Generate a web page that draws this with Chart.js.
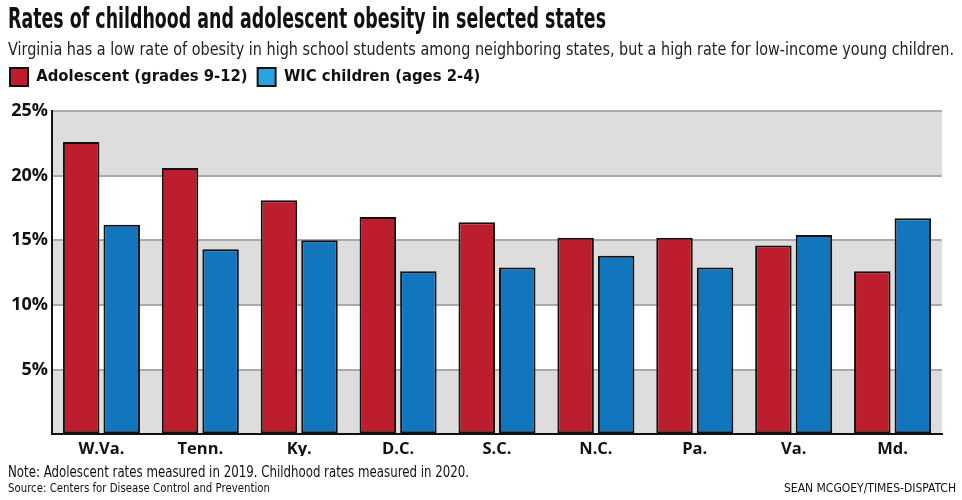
<!DOCTYPE html>
<html><head><meta charset="utf-8">
<script src="https://cdn.jsdelivr.net/npm/chart.js@4"></script>
<style>html,body{margin:0;padding:0;background:#fff}#wrap{width:962px;height:500px;position:relative}</style>
</head><body><div id="wrap"><canvas id="c"></canvas></div>
<script>
const categories = ["W.Va.","Tenn.","Ky.","D.C.","S.C.","N.C.","Pa.","Va.","Md."];
const adolescent = [22.6,20.6,18.1,16.8,16.4,15.2,15.2,14.6,12.6];
const wicChildren = [16.2,14.3,15.0,12.6,12.9,13.8,12.9,15.4,16.7];
const yTicks = [0,5,10,15,20,25];
const seriesNames = ["Adolescent (grades 9-12)","WIC children (ages 2-4)"];
const titleText = "Rates of childhood and adolescent obesity in selected states";
const subtitleText = "Virginia has a low rate of obesity in high school students among neighboring states, but a high rate for low-income young children.";
const noteText = "Note: Adolescent rates measured in 2019. Childhood rates measured in 2020.";
const sourceText = "Source: Centers for Disease Control and Prevention";
const creditText = "SEAN MCGOEY/TIMES-DISPATCH";

const NARROW = "'Liberation Sans Narrow','DejaVu Sans Condensed',sans-serif";
const OPEN = "'Open Sans',sans-serif";

function fitText(ctx, text, x, y, font, width, align){
  ctx.save();
  ctx.font = font;
  const w = ctx.measureText(text).width;
  const s = width / w;
  ctx.textAlign = 'left';
  ctx.translate(align === 'right' ? x - width : x, y);
  ctx.scale(s, 1);
  ctx.fillText(text, 0, 0);
  ctx.restore();
}

const bands = {
  id:'bands',
  beforeDraw(chart){
    const {ctx, chartArea:a, scales:{y}} = chart;
    ctx.save();
    ctx.fillStyle = '#dddddd';
    for (let i=0;i<yTicks.length-1;i+=2){
      const t = y.getPixelForValue(yTicks[i+1]);
      const b = y.getPixelForValue(yTicks[i]);
      ctx.fillRect(a.left, t, a.right-a.left, b-t);
    }
    ctx.restore();
  }
};
const texts = {
  id:'texts',
  afterDraw(chart){
    const ctx = chart.ctx;
    ctx.save();
    ctx.textBaseline = 'alphabetic';
    ctx.fillStyle = '#111';
    fitText(ctx, titleText, 8, 28, "bold 28px " + NARROW, 598);
    ctx.fillStyle = '#222';
    fitText(ctx, subtitleText, 8, 55, "18px " + NARROW, 946);
    ctx.fillStyle = '#111';
    fitText(ctx, noteText, 8, 477, "15px " + NARROW, 461);
    fitText(ctx, sourceText, 8, 492, "12.5px " + NARROW, 262);
    fitText(ctx, creditText, 956, 492, "12.5px " + NARROW, 172, 'right');
    ctx.restore();
  }
};
const spacer = {
  id:'spacer',
  beforeInit(chart){
    Chart.layouts.addBox(chart, {
      position:'top', weight:100, fullSize:true, options:{},
      left:0, top:0, right:0, bottom:0, width:0, height:0,
      update(maxWidth){ this.width = maxWidth; this.height = 15; },
      isHorizontal(){ return true; },
      draw(){}
    });
  }
};

new Chart(document.getElementById('c'), {
  type:'bar',
  data:{
    labels: categories,
    datasets:[
      {label:seriesNames[0], data:adolescent, backgroundColor:'#bc1e2d', borderColor:'#111', borderWidth:2, borderSkipped:false},
      {label:seriesNames[1], data:wicChildren, backgroundColor:'#1276be', borderColor:'#111', borderWidth:2, borderSkipped:false}
    ]
  },
  options:{
    responsive:true, maintainAspectRatio:false, animation:false,
    layout:{padding:{left:0,right:20,top:58,bottom:44}},
    datasets:{bar:{categoryPercentage:0.82, barPercentage:0.9}},
    plugins:{
      title:{display:false},
      legend:{display:true, align:'start',
        labels:{boxWidth:18, boxHeight:18, color:'#111', padding:10,
          font:{family:NARROW, size:16.5, weight:'bold'},
          generateLabels(chart){
            const items = Chart.defaults.plugins.legend.labels.generateLabels(chart);
            items.forEach((it,i)=>{ if(i===1) it.fillStyle = '#29a4e0'; it.lineWidth = 2; });
            return items;
          }}},
      tooltip:{enabled:false}
    },
    scales:{
      x:{grid:{display:false}, border:{color:'#111', width:2},
        ticks:{color:'#111', padding:-3, font:{family:OPEN, size:16.5, weight:'bold'}}},
      y:{min:0, max:25, afterBuildTicks(s){ s.ticks = yTicks.map(v=>({value:v})); },
        afterFit(s){ s.width = 52; },
        grid:{color:'#aaaaaa', lineWidth:2, drawTicks:false},
        border:{color:'#111', width:2},
        ticks:{color:'#111', padding:4, font:{family:OPEN, size:18, weight:'bold'},
          callback:v=> v===0 ? '' : v+'%'}}
    }
  },
  plugins:[bands, texts, spacer]
});
</script></body></html>
